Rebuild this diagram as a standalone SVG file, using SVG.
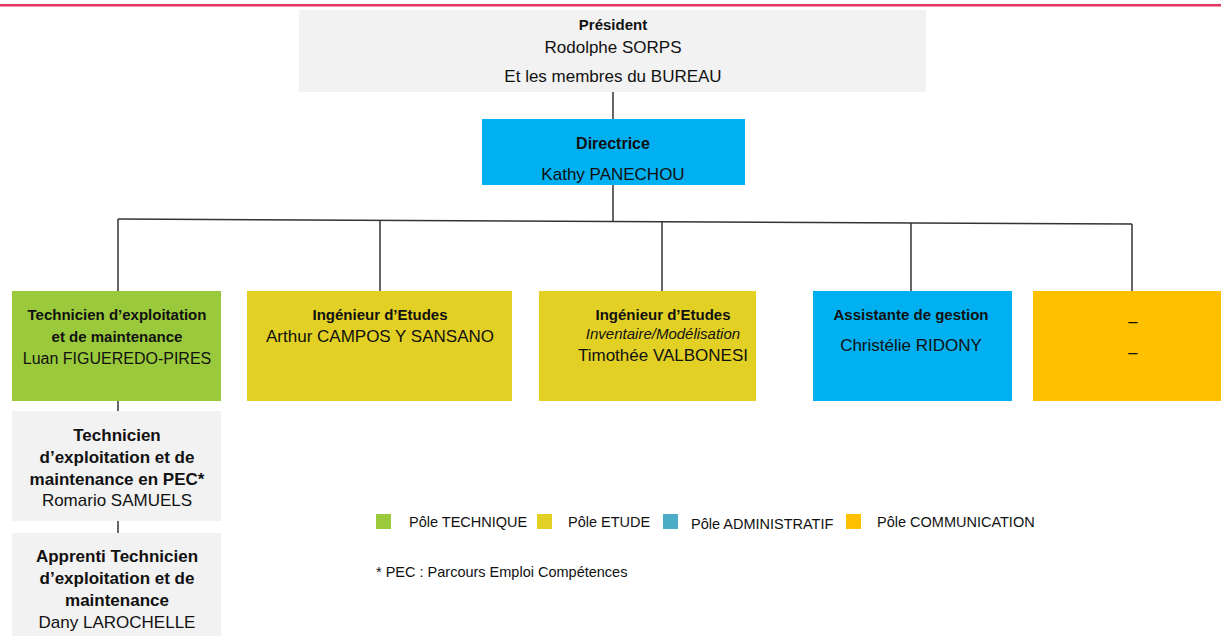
<svg xmlns="http://www.w3.org/2000/svg" width="1221" height="636" viewBox="0 0 1221 636">
<style>
text{font-family:"Liberation Sans",Arial,sans-serif;fill:#111;text-anchor:middle}
.b{font-weight:bold;font-size:15px}
.bb{font-weight:bold;font-size:17px}
.r{font-size:17px}
.rs{font-size:16px}
.i{font-style:italic;font-size:15px}
.lg{font-size:14.5px;text-anchor:start}
.conn{stroke:#333;stroke-width:1.5;fill:none}
.gray{fill:#F2F2F2}
.green{fill:#9ACA3C}
.yellow{fill:#E3D024}
.blue{fill:#00B0F0}
.orange{fill:#FFC000}
</style>
<rect x="0" y="4" width="1221" height="2.5" fill="#E63462"/>
<g id="connectors">
<line class="conn" x1="613" y1="92" x2="613" y2="119"/>
<line class="conn" x1="613" y1="185" x2="613" y2="221"/>
<line class="conn" x1="118" y1="219" x2="1132" y2="224"/>
<line class="conn" x1="118" y1="219" x2="118" y2="291"/>
<line class="conn" x1="380" y1="220" x2="380" y2="291"/>
<line class="conn" x1="662" y1="221.5" x2="662" y2="291"/>
<line class="conn" x1="911" y1="223" x2="911" y2="291"/>
<line class="conn" x1="1132" y1="224" x2="1132" y2="291"/>
<line class="conn" x1="118" y1="401" x2="118" y2="411"/>
<line class="conn" x1="118" y1="521" x2="118" y2="533"/>
</g>
<g id="president">
<rect class="gray" x="299" y="10" width="627" height="82"/>
<text class="b" x="613" y="30">Président</text>
<text class="r" x="613" y="53">Rodolphe SORPS</text>
<text class="r" x="613" y="82">Et les membres du BUREAU</text>
</g>
<g id="directrice">
<rect class="blue" x="482" y="119" width="263" height="66"/>
<text class="b" x="613" y="149" style="font-size:16px">Directrice</text>
<text class="r" x="613" y="180">Kathy PANECHOU</text>
</g>
<g id="technicien">
<rect class="green" x="12" y="291" width="209" height="110"/>
<text class="b" x="117" y="320">Technicien d’exploitation</text>
<text class="b" x="117" y="342">et de maintenance</text>
<text class="rs" x="117" y="364">Luan FIGUEREDO-PIRES</text>
</g>
<g id="ingenieur1">
<rect class="yellow" x="247" y="291" width="265" height="110"/>
<text class="b" x="380" y="320">Ingénieur d’Etudes</text>
<text class="r" x="380" y="342">Arthur CAMPOS Y SANSANO</text>
</g>
<g id="ingenieur2">
<rect class="yellow" x="539" y="291" width="217" height="110"/>
<text class="b" x="663" y="320">Ingénieur d’Etudes</text>
<text class="i" x="663" y="339">Inventaire/Modélisation</text>
<text class="r" x="663" y="361">Timothée VALBONESI</text>
</g>
<g id="assistante">
<rect class="blue" x="813" y="291" width="199" height="110"/>
<text class="b" x="911" y="320">Assistante de gestion</text>
<text class="r" x="911" y="351">Christélie RIDONY</text>
</g>
<g id="communication">
<rect class="orange" x="1033" y="291" width="188" height="110"/>
<text class="rs" x="1133" y="320">_</text>
<text class="rs" x="1133" y="351">_</text>
</g>
<g id="technicien-pec">
<rect class="gray" x="12" y="411" width="209" height="110"/>
<text class="bb" x="117" y="441">Technicien</text>
<text class="bb" x="117" y="463">d’exploitation et de</text>
<text class="bb" x="117" y="485">maintenance en PEC*</text>
<text class="r" x="117" y="506">Romario SAMUELS</text>
</g>
<g id="apprenti">
<rect class="gray" x="12" y="533" width="209" height="103"/>
<text class="bb" x="117" y="562">Apprenti Technicien</text>
<text class="bb" x="117" y="584">d’exploitation et de</text>
<text class="bb" x="117" y="606">maintenance</text>
<text class="r" x="117" y="628">Dany LAROCHELLE</text>
</g>
<g id="legend">
<rect x="376" y="514" width="15" height="15" fill="#9ACA3C"/>
<text class="lg" x="409" y="527">Pôle TECHNIQUE</text>
<rect x="537" y="514" width="15" height="15" fill="#E3D024"/>
<text class="lg" x="568" y="527">Pôle ETUDE</text>
<rect x="663" y="514" width="15" height="15" fill="#4BACC6"/>
<text class="lg" x="691" y="529">Pôle ADMINISTRATIF</text>
<rect x="846" y="514" width="15" height="15" fill="#FFC000"/>
<text class="lg" x="877" y="527">Pôle COMMUNICATION</text>
<text class="lg" x="376" y="577">* PEC : Parcours Emploi Compétences</text>
</g>
</svg>
